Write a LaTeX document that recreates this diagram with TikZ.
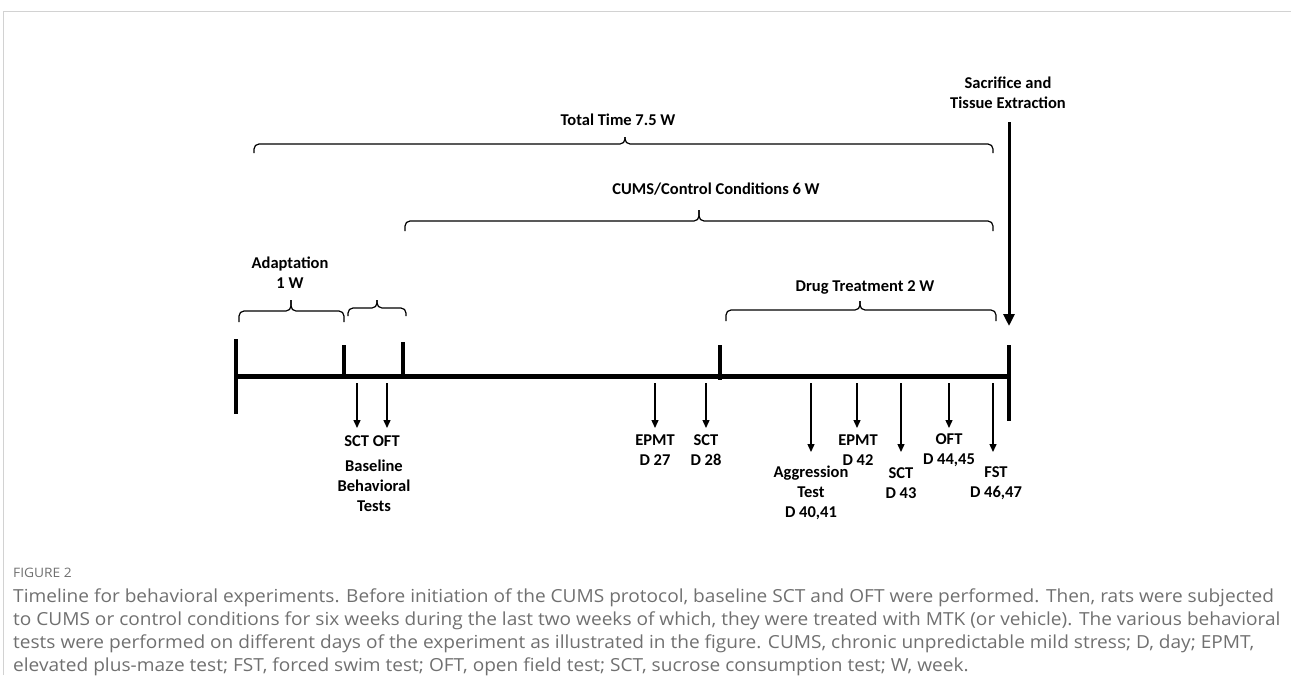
\documentclass[tikz,border=0pt]{standalone}
\usepackage{fontspec}
\setmainfont{Carlito}
\newfontfamily\capfont[FakeStretch=1.06]{Open Sans}
\usetikzlibrary{arrows.meta}
\definecolor{capgrey}{HTML}{707070}
\definecolor{framegrey}{HTML}{D2D2D2}
% name, x0, x1, xm, y(end), y(line), y(tip)
\newcommand{\wbrace}[7]{%
  \coordinate (#1l) at (#2,#5); \coordinate (#1r) at (#3,#5); \coordinate (#1t) at (#4,#7);
  \draw[bracepath] (#1l) -- (#2,#6) -- (#4,#6) -- (#1t);
  \draw[bracepath] (#1r) -- (#3,#6) -- (#4,#6) -- (#1t);
}
\begin{document}
\begin{tikzpicture}[x=1pt,y=-1pt,
  lbl/.style={font=\bfseries\fontsize{16.5}{20}\selectfont, inner sep=0pt, align=center},
  bracepath/.style={line width=1.2pt, rounded corners=5pt},
  tickline/.style={line width=3.5pt},
  axisline/.style={line width=5pt},
  evarrow/.style={line width=1.4pt, -{Triangle[length=8pt,width=7pt]}},
  bigarrow/.style={line width=3pt, -{Triangle[length=12pt,width=11pt]}},
  captxt/.style={font=\capfont\fontsize{18}{24}\selectfont, text=capgrey, anchor=base west, inner sep=0pt},
]
\useasboundingbox (0,0) rectangle (1291,675);
% frame
\coordinate (fbl) at (3,675);
\coordinate (ftl) at (3,11);
\coordinate (ftr) at (1291,11);
\draw[framegrey, line width=1pt] (fbl) -- (ftl) -- (ftr);

% axis
\coordinate (ax0) at (236,376);
\coordinate (ax1) at (1009,376);
\draw[axisline] (ax0) -- (ax1);
% ticks
\coordinate (k0a) at (236,339); \coordinate (k0b) at (236,414);
\coordinate (k1a) at (344,345); \coordinate (k1b) at (344,376);
\coordinate (k2a) at (403,342); \coordinate (k2b) at (403,376);
\coordinate (k3a) at (720,345); \coordinate (k3b) at (720,380);
\coordinate (k4a) at (1009,345); \coordinate (k4b) at (1009,421);
\draw[tickline] (k0a) -- (k0b);
\draw[tickline] (k1a) -- (k1b);
\draw[tickline] (k2a) -- (k2b);
\draw[tickline] (k3a) -- (k3b);
\draw[tickline] (k4a) -- (k4b);

% sacrifice
\node[lbl] (sac) at (1008,93) {Sacrifice and\\Tissue Extraction};
\coordinate (sacA) at (1009,122);
\coordinate (sacB) at (1009,326);
\draw[bigarrow] (sacA) -- (sacB);

% braces
\wbrace{bT}{254}{993}{625}{153}{144}{137}
\node[lbl] (total) at (618,120) {Total Time 7.5 W};

\wbrace{bC}{405}{993}{699}{231}{221}{210}
\node[lbl] (cums) at (716,189) {CUMS/Control Conditions 6 W};

\wbrace{bA}{239}{344}{291}{322}{311}{300}
\node[lbl] (adapt) at (290,273) {Adaptation\\1 W};

\wbrace{bS}{348}{406}{377}{316}{308}{300}

\wbrace{bD}{726}{996}{860}{321}{310}{301}
\node[lbl] (drug) at (865,287) {Drug Treatment 2 W};

% event arrows
\foreach \nm/\x/\yb in {a1/357/428, a2/387/428, a3/655/428, a4/706/428, a5/811/452, a6/857/428, a7/901/452, a8/949/428, a9/993/452}{
  \coordinate (\nm s) at (\x,383);
  \coordinate (\nm e) at (\x,\yb);
  \draw[evarrow] (\nm s) -- (\nm e);
}

% labels
\node[lbl] (base1) at (372,441) {SCT OFT};
\node[lbl] (base2) at (374,486) {Baseline\\Behavioral\\Tests};
\node[lbl] (l3) at (655,450.5) {EPMT\\D 27};
\node[lbl] (l4) at (706,450.5) {SCT\\D 28};
\node[lbl] (l5) at (811,493) {Aggression\\Test\\D 40,41};
\node[lbl] (l6) at (858,450.5) {EPMT\\D 42};
\node[lbl] (l7) at (901,483) {SCT\\D 43};
\node[lbl] (l8) at (949,450.5) {OFT\\D 44,45};
\node[lbl] (l9) at (996,483) {FST\\D 46,47};

% caption
\node[captxt, font=\capfont\fontsize{13}{16}\selectfont] (fig) at (13,577) {FIGURE 2};
\node[captxt] (c1) at (13,602) {Timeline for behavioral experiments. Before initiation of the CUMS protocol, baseline SCT and OFT were performed. Then, rats were subjected};
\node[captxt] (c2) at (13,625) {to CUMS or control conditions for six weeks during the last two weeks of which, they were treated with MTK (or vehicle). The various behavioral};
\node[captxt] (c3) at (13,648) {tests were performed on different days of the experiment as illustrated in the figure. CUMS, chronic unpredictable mild stress; D, day; EPMT,};
\node[captxt] (c4) at (13,671) {elevated plus-maze test; FST, forced swim test; OFT, open field test; SCT, sucrose consumption test; W, week.};
\end{tikzpicture}
\end{document}
